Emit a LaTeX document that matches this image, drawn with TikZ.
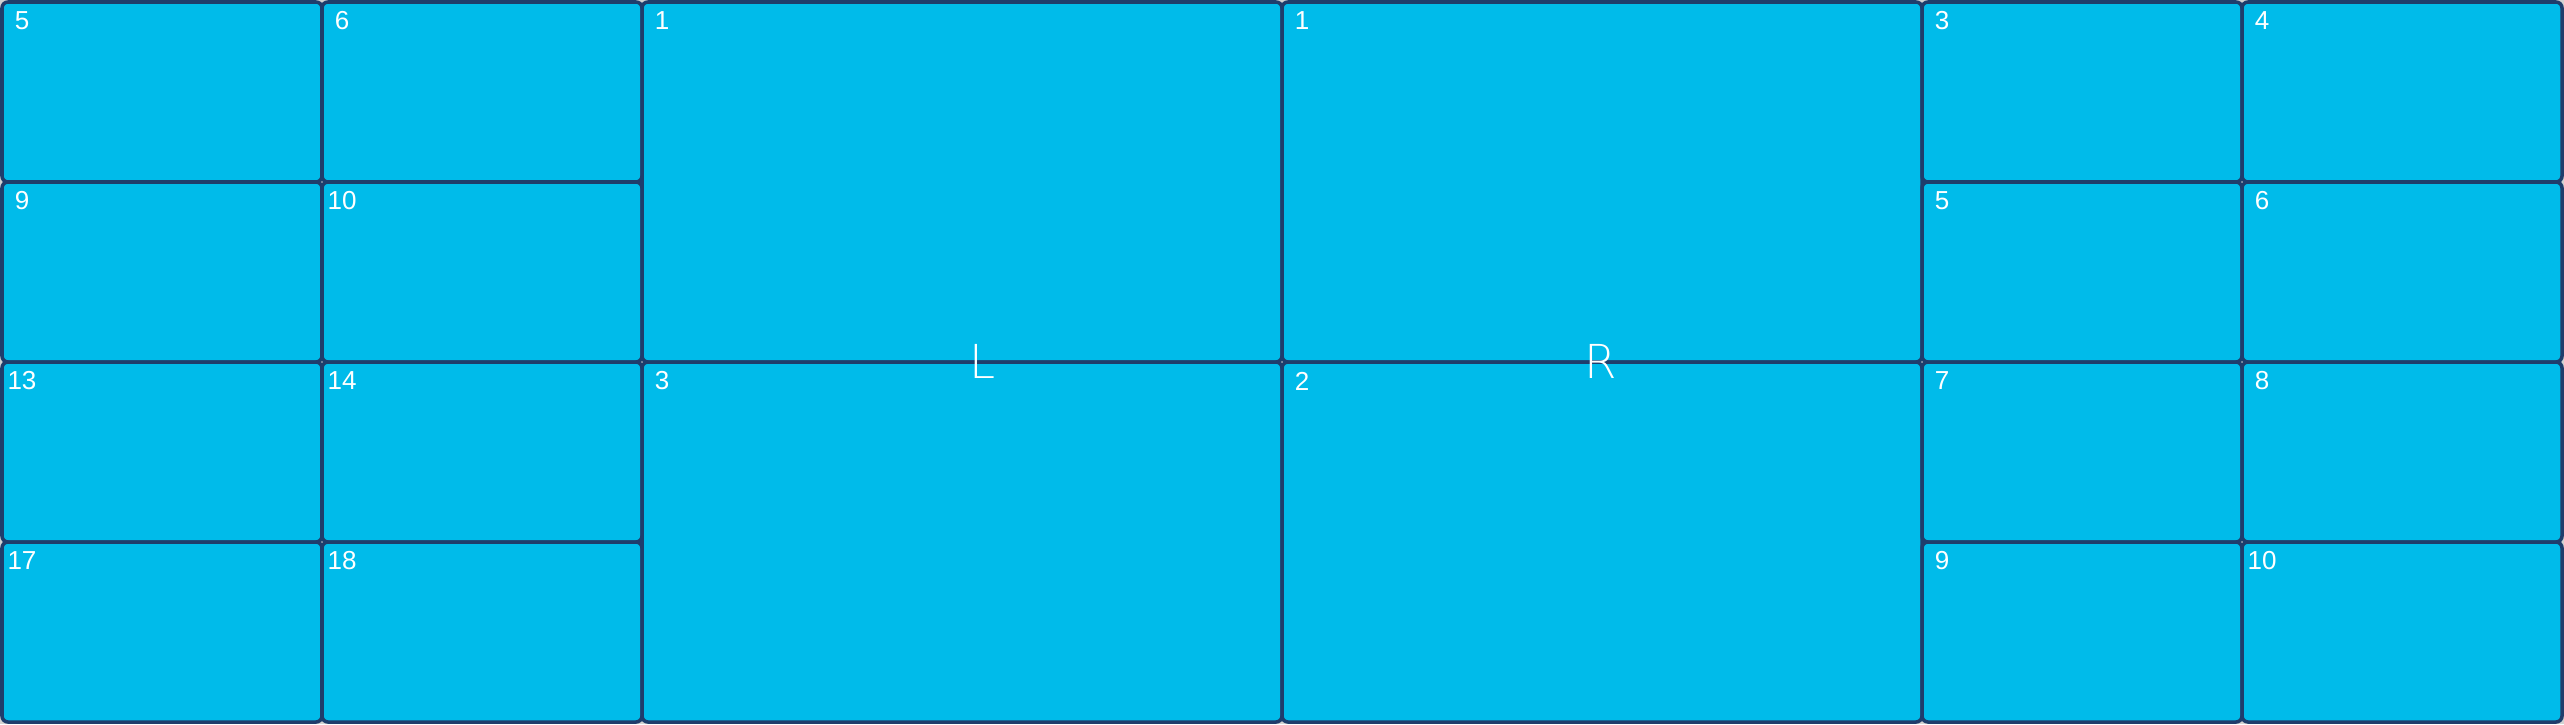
\documentclass[tikz,border=0pt]{standalone}
\usepackage{fontspec}
\setmainfont{Liberation Sans}
\newfontfamily\thinfont{DejaVu Sans ExtraLight}
\definecolor{cellblue}{RGB}{0,187,234}
\definecolor{cellline}{RGB}{31,61,108}
\begin{document}
\begin{tikzpicture}[x=0.01cm,y=-0.01cm,
  cell/.style={fill=cellblue,draw=cellline,line width=1pt,rounded corners=0.06cm},
  num/.style={text=white,inner sep=0pt,font=\fontsize{7.4}{8}\selectfont},
  side/.style={text=white,inner sep=0pt,font=\thinfont\fontsize{13.3}{15}\selectfont}]
  \useasboundingbox[fill=gray!35](0,0) rectangle(2564,724);
  % left block, small cells
  \foreach \r/\a/\b in {0/5/6,1/9/10,2/13/14,3/17/18}{
    \draw[cell](2,2+180*\r) rectangle(322,182+180*\r);
    \draw[cell](322,2+180*\r) rectangle(642,182+180*\r);
    \node[num](l\a) at(22,21+180*\r){\a};
    \node[num](l\b) at(342,21+180*\r){\b};
  }
  % big cells
  \draw[cell](642,2) rectangle(1282,362);
  \draw[cell](642,362) rectangle(1282,722);
  \draw[cell](1282,2) rectangle(1922,362);
  \draw[cell](1282,362) rectangle(1922,722);
  \node[num](lbig1) at(662,21){1};
  \node[num](lbig3) at(662,381){3};
  \node[num](rbig1) at(1302,21){1};
  \node[num](rbig2) at(1302,381){2};
  % right block, small cells
  \foreach \r/\a/\b in {0/3/4,1/5/6,2/7/8,3/9/10}{
    \draw[cell](1922,2+180*\r) rectangle(2242,182+180*\r);
    \draw[cell](2242,2+180*\r) rectangle(2562,182+180*\r);
    \node[num](r\a) at(1942,21+180*\r){\a};
    \node[num](r\b) at(2262,21+180*\r){\b};
  }
  \node[side](left) at(983,361){L};
  \node[side](right) at(1601,361){R};
\end{tikzpicture}
\end{document}
